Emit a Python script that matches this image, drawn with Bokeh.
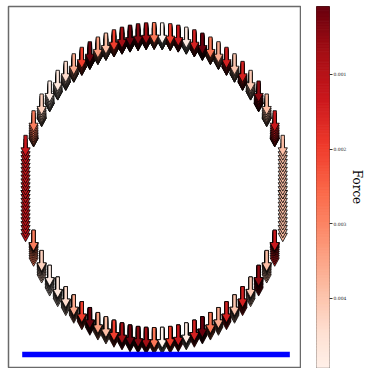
import numpy as np
from bokeh.plotting import figure
from bokeh.models import Range1d, LinearColorMapper, ColumnDataSource, FixedTicker, PrintfTickFormatter
from bokeh.palettes import Reds256
from bokeh.layouts import row
from bokeh.embed import file_html
from bokeh.resources import INLINE

# ---- data ----
# node x positions along the ring (upper and lower half share them)
node_x = [-1.0, -0.9375, -0.875, -0.8125, -0.75, -0.6875, -0.625, -0.5625,
          -0.5, -0.4375, -0.375, -0.3125, -0.25, -0.1875, -0.125, -0.0625,
          0.0, 0.0625, 0.125, 0.1875, 0.25, 0.3125, 0.375, 0.4375,
          0.5, 0.5625, 0.625, 0.6875, 0.75, 0.8125, 0.875, 0.9375, 1.0]
# force (colour value) at each node
node_force = [0.0013, 0.0029, 0.0042, 0.0049, 0.0047, 0.0044, 0.0036, 0.0020,
              0.0001, 0.0034, 0.0039, 0.0020, 0.0007, 0.0001, 0.0004, 0.0007,
              0.0028, 0.0050, 0.0020, 0.0013, 0.0048, 0.0015, 0.0001, 0.0028,
              0.0036, 0.0015, 0.0040, 0.0015, 0.0041, 0.0005, 0.0039, 0.0013,
              0.0039]
# radii of the stacked ring snapshots
layer_r = [1.0, 1.00034, 1.00135, 1.00303, 1.00538, 1.0084, 1.01207,
           1.01639, 1.02136, 1.02696, 1.03317, 1.04]
ground_x = [-1.026, 1.055]
ground_y = [-1.181, -1.181]
force_low, force_high = 0.00008, 0.0051
cbar_ticks = [0.001, 0.002, 0.003, 0.004]

# ---- main plot ----
W_MAIN, H = 301, 368
BL, BR, BT, BB = 8, 1, 6, 1
xr = Range1d(-1.1326, 1.138)
yr = Range1d(-1.2676, 1.1472)
p = figure(width=W_MAIN, height=H, x_range=xr, y_range=yr,
           output_backend="svg", toolbar_location=None,
           x_axis_location=None, y_axis_location=None,
           min_border_left=BL, min_border_right=BR, min_border_top=BT, min_border_bottom=BB)
p.grid.visible = False
p.outline_line_color = "#6a6a6a"
p.outline_line_width = 1.5
p.background_fill_color = "white"

mapper = LinearColorMapper(palette=Reds256, low=force_low, high=force_high)

# arrow shape in screen pixels (style)
frame_w, frame_h = W_MAIN - BL - BR, H - BT - BB
sx = frame_w / (xr.end - xr.start)
sy = frame_h / (yr.end - yr.start)
AL, SW, HW, HL = 21.0, 1.7, 4.6, 8.5
aw, ah = SW / sx, HW / sx
al, hl = AL / sy, HL / sy

tails = []
for sgn in (1, -1):
    for r in layer_r:
        for xi, fi in zip(node_x, node_force):
            yi = sgn * np.sqrt(max(r * r - xi * xi, 0.0))
            tails.append((yi, xi, fi))
tails.sort(key=lambda t: t[0])

xs, ys, fs = [], [], []
for yi, xi, fi in tails:
    yb = yi - (al - hl)
    xs.append([xi - aw, xi + aw, xi + aw, xi + ah, xi, xi - ah, xi - aw])
    ys.append([yi, yi, yb, yb, yi - al, yb, yb])
    fs.append(fi)
src = ColumnDataSource(dict(xs=xs, ys=ys, force=fs))
p.patches("xs", "ys", source=src,
          fill_color={"field": "force", "transform": mapper},
          line_color="black", line_width=0.8)

p.line(ground_x, ground_y, line_color="#0000ff", line_width=5.5, line_cap="butt")

# ---- colour bar as its own panel ----
levels = np.linspace(force_low, force_high, 257)
cb_src = ColumnDataSource(dict(bottom=levels[:-1], top=levels[1:],
                               mid=(levels[:-1] + levels[1:]) / 2))
cb = figure(width=66, height=H, x_range=Range1d(0, 1),
            y_range=Range1d(0.004924, 0.00009),
            output_backend="svg", toolbar_location=None,
            x_axis_location=None, y_axis_location="right",
            min_border_left=15, min_border_right=0, min_border_top=BT, min_border_bottom=BB)
cb.grid.visible = False
cb.quad(left=0, right=1, bottom="bottom", top="top", source=cb_src,
        fill_color={"field": "mid", "transform": mapper},
        line_color={"field": "mid", "transform": mapper}, line_width=1)
cb.outline_line_color = "#333333"
cb.outline_line_width = 1
ax = cb.yaxis[0]
ax.ticker = FixedTicker(ticks=cbar_ticks)
ax.formatter = PrintfTickFormatter(format="%.3f")
ax.minor_tick_line_color = None
ax.major_tick_out = 3
ax.major_tick_in = 0
ax.major_tick_line_color = "#333333"
ax.axis_line_color = None
ax.major_label_text_font = "DejaVu Serif"
ax.major_label_text_font_size = "4.5px"
ax.major_label_text_color = "#222222"
ax.major_label_standoff = 1
ax.axis_label = "Force"
ax.axis_label_text_font = "DejaVu Serif"
ax.axis_label_text_font_size = "12px"
ax.axis_label_text_font_style = "normal"
ax.axis_label_text_color = "black"
ax.axis_label_standoff = 1

layout = row(p, cb)
open("out.html", "w").write(file_html(layout, INLINE))
